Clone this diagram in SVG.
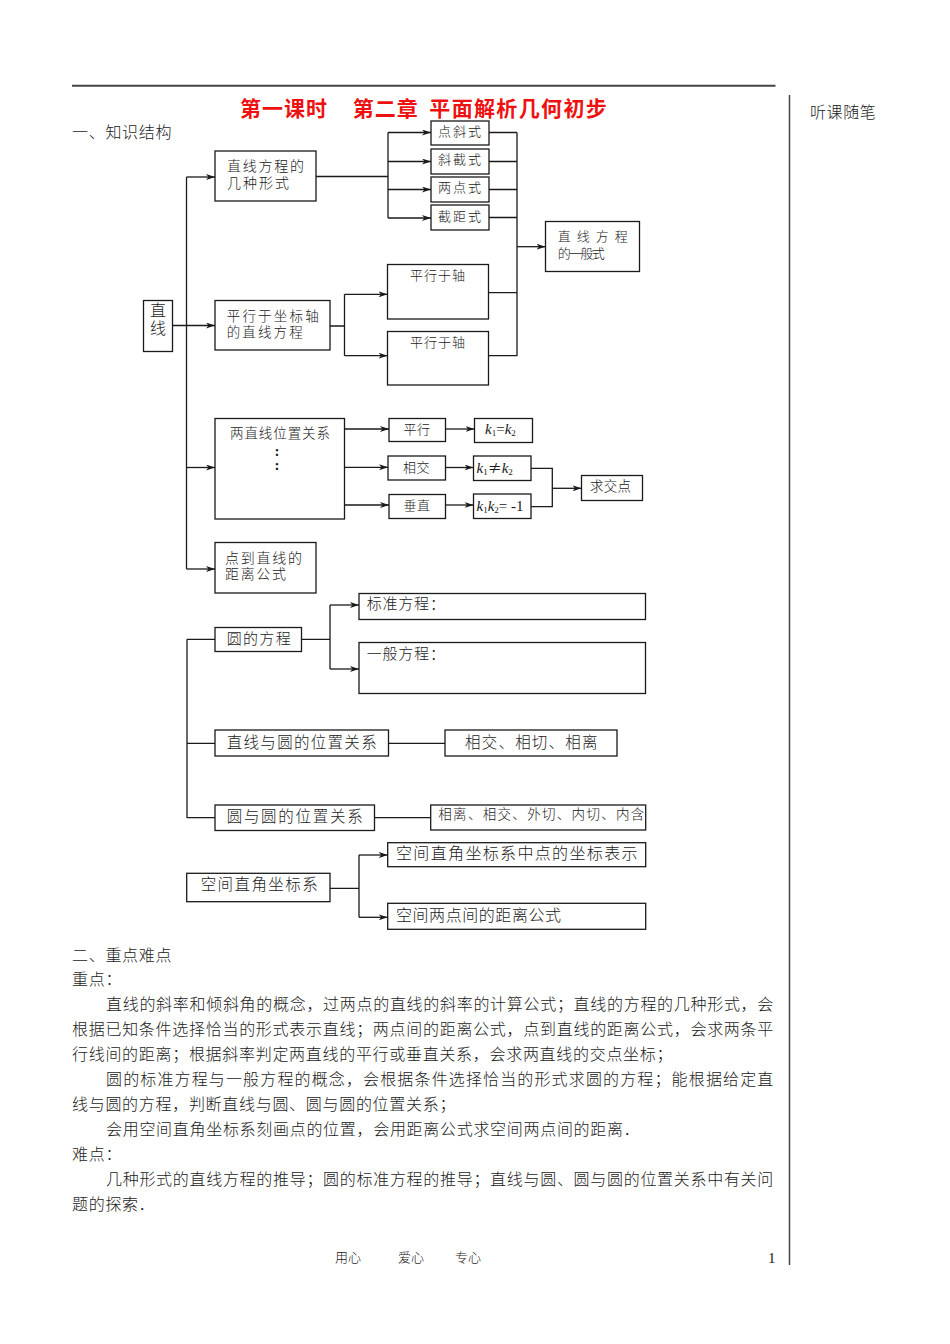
<svg xmlns="http://www.w3.org/2000/svg" width="950" height="1344" viewBox="0 0 950 1344">
<style>
.bg{fill:#fff}
.box{fill:#fff;stroke:#1a1a1a;stroke-width:1.3}
.ln{fill:none;stroke:#1a1a1a;stroke-width:1.3}
.arr{marker-end:url(#ah)}
.t{font-family:"Liberation Serif","Noto Sans CJK SC",serif;fill:#1a1a1a;font-weight:300}
.s13{font-size:13px}
.s135{font-size:13.5px}
.s14{font-size:14px}
.s15{font-size:15px}
.s155{font-size:15.5px}
.s16{font-size:16px}
.body{font-size:16px;letter-spacing:0.7px}
.title{font-size:21px;font-weight:bold;fill:#ee1111}
.k{font-family:"Liberation Serif",serif;font-size:15px;fill:#1a1a1a}
.kt{font-style:italic}
.sub{font-size:9px}
.rule{stroke:#444;fill:none}
</style>
<defs>
<marker id="ah" markerUnits="userSpaceOnUse" markerWidth="9" markerHeight="6" refX="9" refY="3" orient="auto">
<path d="M0,0 L9,3 L0,6 L2.5,3 z" fill="#1a1a1a"/>
</marker>
</defs>
<rect class="bg" x="0" y="0" width="950" height="1344"/>

<g id="page">
<line class="rule" x1="72" y1="85.7" x2="775.5" y2="85.7" stroke-width="2"/>
<line class="rule" x1="789.5" y1="95" x2="789.5" y2="1265" stroke-width="1.5"/>
<text class="t s16" x="810" y="117.5" letter-spacing="0.6">听课随笔</text>
<text class="t title" x="240" y="115.5" textLength="87" lengthAdjust="spacing">第一课时</text>
<text class="t title" x="352.7" y="115.5" textLength="65" lengthAdjust="spacing">第二章</text>
<text class="t title" x="429.3" y="115.5" textLength="177.5" lengthAdjust="spacing">平面解析几何初步</text>
<text class="t body" x="72" y="138">一、知识结构</text>
</g>

<g id="connectors">
<path class="ln arr" d="M173,325.5 H215"/>
<path class="ln" d="M186.5,177 V569"/>
<path class="ln arr" d="M186.5,177 H215"/>
<path class="ln arr" d="M186.5,467.5 H215"/>
<path class="ln arr" d="M186.5,569 H215"/>
<path class="ln" d="M316,176.5 H388 M388,132.5 V218"/>
<path class="ln arr" d="M388,132.5 H431"/>
<path class="ln arr" d="M388,161.5 H431"/>
<path class="ln arr" d="M388,189.5 H431"/>
<path class="ln arr" d="M388,218 H431"/>
<path class="ln" d="M489,132.5 H517 M489,161.5 H517 M489,189.5 H517 M489,217.5 H517 M517,132.5 V356 M488.5,292.7 H517 M488.5,355.7 H517"/>
<path class="ln arr" d="M517,246.7 H545.5"/>
<path class="ln" d="M330,326 H344.5 M344.5,294.3 V355.7"/>
<path class="ln arr" d="M344.5,294.3 H387.5"/>
<path class="ln arr" d="M344.5,355.7 H387.5"/>
<path class="ln arr" d="M344.5,429 H389"/>
<path class="ln arr" d="M344.5,467.3 H388"/>
<path class="ln arr" d="M344.5,505 H389"/>
<path class="ln arr" d="M445.5,429 H474.5"/>
<path class="ln arr" d="M445.5,467.5 H473.5"/>
<path class="ln arr" d="M445.5,505 H473.5"/>
<path class="ln" d="M531,468.3 H552.3 V506.7 H531"/>
<path class="ln arr" d="M552.3,488.3 H581.5"/>
<path class="ln" d="M187,639.3 V818 M187,639.3 H215 M187,743.3 H215 M187,817.7 H215"/>
<path class="ln" d="M301.5,639.3 H330 M330,605 V669"/>
<path class="ln arr" d="M330,605 H359"/>
<path class="ln arr" d="M330,669 H359"/>
<path class="ln" d="M388.5,743.3 H445"/>
<path class="ln" d="M374.5,817.7 H430.7"/>
<path class="ln" d="M330,888.3 H359 M359,855 V917.3"/>
<path class="ln arr" d="M359,855 H387.7"/>
<path class="ln arr" d="M359,917.3 H387.7"/>
</g>

<g id="n-zhixian">
<rect class="box" x="143.5" y="300.5" width="29" height="51"/>
<text class="t s16" x="158" y="316" text-anchor="middle">直</text>
<text class="t s16" x="158" y="334" text-anchor="middle">线</text>
</g>
<g id="n-forms">
<rect class="box" x="215" y="151" width="101" height="50"/>
<text class="t s14" x="227" y="170.5" textLength="77" lengthAdjust="spacing">直线方程的</text>
<text class="t s14" x="227" y="187.5" textLength="62" lengthAdjust="spacing">几种形式</text>
</g>
<g id="n-dianxie">
<rect class="box" x="431" y="121" width="58" height="24"/>
<text class="t s13" x="438" y="136" textLength="43" lengthAdjust="spacing">点斜式</text>
</g>
<g id="n-xiejie">
<rect class="box" x="431" y="149" width="58" height="25"/>
<text class="t s13" x="438" y="164" textLength="43" lengthAdjust="spacing">斜截式</text>
</g>
<g id="n-liangdian">
<rect class="box" x="431" y="177" width="58" height="25"/>
<text class="t s13" x="438" y="192" textLength="43" lengthAdjust="spacing">两点式</text>
</g>
<g id="n-jieju">
<rect class="box" x="431" y="205" width="58" height="25"/>
<text class="t s13" x="438" y="220.5" textLength="43" lengthAdjust="spacing">截距式</text>
</g>
<g id="n-general">
<rect class="box" x="545.5" y="221.5" width="94" height="50"/>
<text class="t s13" x="557.7" y="241" textLength="70" lengthAdjust="spacing">直线方程</text>
<text class="t s13" x="557.7" y="257.5" textLength="47" lengthAdjust="spacing">的一般式</text>
</g>
<g id="n-parallel-axis">
<rect class="box" x="215" y="300.5" width="115" height="49.5"/>
<text class="t s135" x="226.7" y="320.5" textLength="92" lengthAdjust="spacing">平行于坐标轴</text>
<text class="t s135" x="226.7" y="336.5" textLength="76" lengthAdjust="spacing">的直线方程</text>
</g>
<g id="n-axis1">
<rect class="box" x="387.5" y="264.5" width="101" height="54.5"/>
<text class="t s13" x="410" y="280" textLength="55" lengthAdjust="spacing">平行于轴</text>
</g>
<g id="n-axis2">
<rect class="box" x="387.5" y="331.5" width="101" height="53.5"/>
<text class="t s13" x="410" y="347" textLength="55" lengthAdjust="spacing">平行于轴</text>
</g>
<g id="n-two-lines">
<rect class="box" x="215" y="418.5" width="129.5" height="100.5"/>
<text class="t s135" x="230" y="438" textLength="100" lengthAdjust="spacing">两直线位置关系</text>
<text class="k" x="277" y="455.5" text-anchor="middle" font-size="11" font-weight="bold">:</text>
<text class="k" x="277" y="469.5" text-anchor="middle" font-size="11" font-weight="bold">:</text>
</g>
<g id="n-pingxing">
<rect class="box" x="389" y="418.5" width="56.5" height="23"/>
<text class="t s13" x="417" y="433.5" text-anchor="middle" letter-spacing="0.5">平行</text>
</g>
<g id="n-xiangjiao">
<rect class="box" x="388" y="456" width="57.5" height="24"/>
<text class="t s13" x="416.5" y="471.5" text-anchor="middle" letter-spacing="0.5">相交</text>
</g>
<g id="n-chuizhi">
<rect class="box" x="389" y="494.5" width="56.5" height="24"/>
<text class="t s13" x="417" y="509.5" text-anchor="middle" letter-spacing="0.5">垂直</text>
</g>
<g id="n-k-eq">
<rect class="box" x="474.5" y="418.5" width="58" height="24"/>
<text class="k" x="485" y="434"><tspan class="kt">k</tspan><tspan class="sub" dy="1.5">1</tspan><tspan dy="-1.5">=</tspan><tspan class="kt">k</tspan><tspan class="sub" dy="1.5">2</tspan></text>
</g>
<g id="n-k-neq">
<rect class="box" x="473.5" y="456" width="57.5" height="24.5"/>
<text class="k" x="476.5" y="473"><tspan class="kt">k</tspan><tspan class="sub" dy="1.5">1</tspan><tspan dy="-1.5" font-family="Noto Sans CJK SC, sans-serif" font-size="14">≠</tspan><tspan class="kt">k</tspan><tspan class="sub" dy="1.5">2</tspan></text>
</g>
<g id="n-k-perp">
<rect class="box" x="473.5" y="494" width="57.5" height="24.5"/>
<text class="k" x="476.5" y="511"><tspan class="kt">k</tspan><tspan class="sub" dy="1.5">1</tspan><tspan class="kt" dy="-1.5">k</tspan><tspan class="sub" dy="1.5">2</tspan><tspan dy="-1.5">= -1</tspan></text>
</g>
<g id="n-intersect">
<rect class="box" x="581.5" y="475.5" width="61" height="25"/>
<text class="t s135" x="590" y="491" textLength="41" lengthAdjust="spacing">求交点</text>
</g>
<g id="n-distance">
<rect class="box" x="215" y="542.5" width="101" height="50.5"/>
<text class="t s14" x="225" y="562.5" textLength="77" lengthAdjust="spacing">点到直线的</text>
<text class="t s14" x="225" y="578.5" textLength="61" lengthAdjust="spacing">距离公式</text>
</g>
<g id="n-circle-eq">
<rect class="box" x="215" y="627.5" width="86.5" height="24"/>
<text class="t s15" x="226.7" y="643.5" textLength="64" lengthAdjust="spacing">圆的方程</text>
</g>
<g id="n-standard">
<rect class="box" x="359" y="593.5" width="286.5" height="26"/>
<text class="t s15" x="366.7" y="608.5" letter-spacing="0.8">标准方程：</text>
</g>
<g id="n-general-circle">
<rect class="box" x="359" y="642.5" width="286.5" height="51"/>
<text class="t s15" x="366.7" y="658.5" letter-spacing="0.8">一般方程：</text>
</g>
<g id="n-line-circle">
<rect class="box" x="215" y="730" width="173.5" height="26"/>
<text class="t s155" x="226.7" y="747.5" textLength="150" lengthAdjust="spacing">直线与圆的位置关系</text>
</g>
<g id="n-line-circle-rel">
<rect class="box" x="445" y="730" width="172" height="26"/>
<text class="t s155" x="465" y="747.5" textLength="132.5" lengthAdjust="spacing">相交、相切、相离</text>
</g>
<g id="n-circle-circle">
<rect class="box" x="215" y="805" width="159.5" height="25.5"/>
<text class="t s155" x="226.7" y="822" textLength="136" lengthAdjust="spacing">圆与圆的位置关系</text>
</g>
<g id="n-circle-circle-rel">
<rect class="box" x="430.7" y="805" width="215" height="25"/>
<text class="t s135" x="438.3" y="818.5" textLength="206" lengthAdjust="spacing">相离、相交、外切、内切、内含</text>
</g>
<g id="n-space">
<rect class="box" x="186.7" y="873.3" width="143.3" height="28.4"/>
<text class="t s155" x="200.7" y="889.5" textLength="117" lengthAdjust="spacing">空间直角坐标系</text>
</g>
<g id="n-space-point">
<rect class="box" x="387.7" y="842.7" width="258" height="24"/>
<text class="t s16" x="396" y="859" textLength="241.5" lengthAdjust="spacing">空间直角坐标系中点的坐标表示</text>
</g>
<g id="n-space-dist">
<rect class="box" x="387.7" y="903.3" width="258" height="26"/>
<text class="t s16" x="396" y="920.5" textLength="165" lengthAdjust="spacing">空间两点间的距离公式</text>
</g>

<g id="body-text">
<text class="t body" x="72" y="960.5">二、重点难点</text>
<text class="t body" x="72" y="985.4">重点：</text>
<text class="t body" x="106" y="1010.3" textLength="668" lengthAdjust="spacing">直线的斜率和倾斜角的概念，过两点的直线的斜率的计算公式；直线的方程的几种形式，会</text>
<text class="t body" x="72" y="1035.2" textLength="702" lengthAdjust="spacing">根据已知条件选择恰当的形式表示直线；两点间的距离公式，点到直线的距离公式，会求两条平</text>
<text class="t body" x="72" y="1060.1">行线间的距离；根据斜率判定两直线的平行或垂直关系，会求两直线的交点坐标；</text>
<text class="t body" x="106" y="1085" textLength="668" lengthAdjust="spacing">圆的标准方程与一般方程的概念，会根据条件选择恰当的形式求圆的方程；能根据给定直</text>
<text class="t body" x="72" y="1109.9">线与圆的方程，判断直线与圆、圆与圆的位置关系；</text>
<text class="t body" x="106" y="1134.8">会用空间直角坐标系刻画点的位置，会用距离公式求空间两点间的距离．</text>
<text class="t body" x="72" y="1159.7">难点：</text>
<text class="t body" x="106" y="1184.6" textLength="668" lengthAdjust="spacing">几种形式的直线方程的推导；圆的标准方程的推导；直线与圆、圆与圆的位置关系中有关问</text>
<text class="t body" x="72" y="1209.5">题的探索．</text>
</g>

<g id="footer">
<text class="t s13" x="335" y="1261.5">用心</text>
<text class="t s13" x="398" y="1261.5">爱心</text>
<text class="t s13" x="455" y="1261.5">专心</text>
<text class="k" x="768" y="1262.5" font-size="13">1</text>
</g>
</svg>
